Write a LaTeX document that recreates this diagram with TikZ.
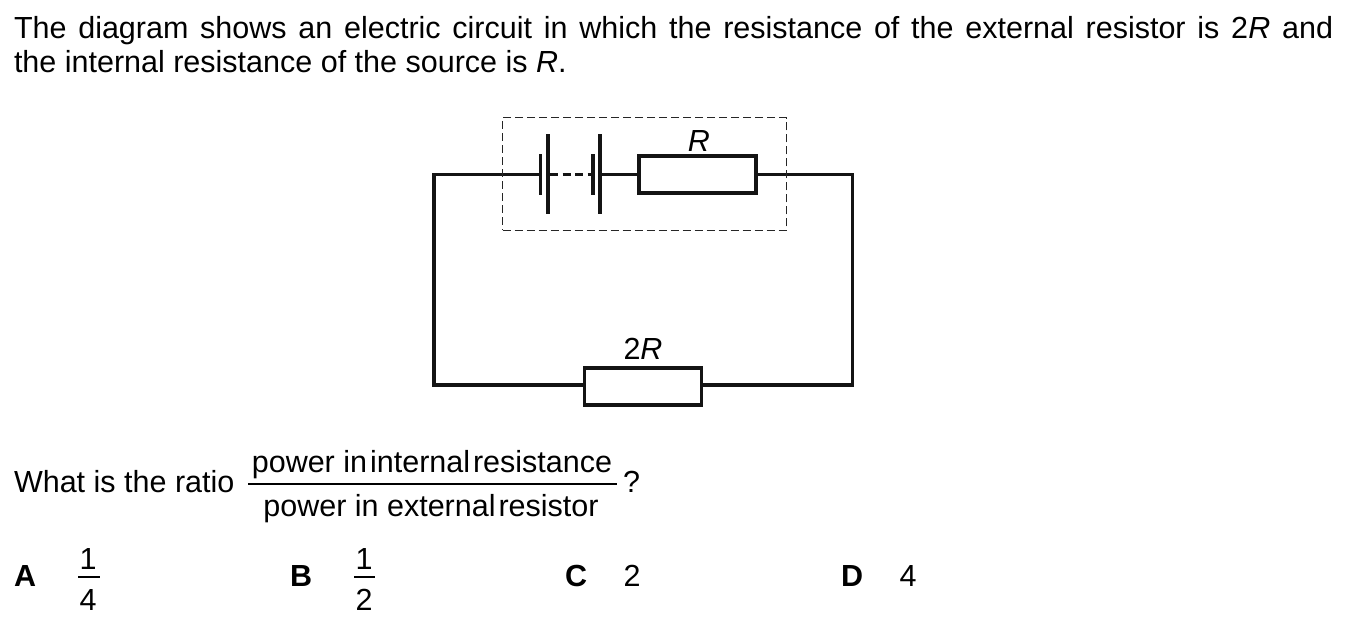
\documentclass[tikz,border=0pt]{standalone}
\usepackage{fontspec}
\setmainfont{Liberation Sans}
\begin{document}
\begin{tikzpicture}[x=1pt,y=-1pt,
  txt/.style={inner sep=0pt,outer sep=0pt,anchor=base west,font=\fontsize{30.5}{34}\selectfont},
  ctr/.style={txt,anchor=base},
  bold/.style={txt,font=\fontsize{30.5}{34}\selectfont\bfseries},
  wire/.style={line width=3.9pt,black!92},
  plate/.style={line width=4.4pt,black!92},
  res/.style={draw=black!92,line width=3.9pt,fill=none,minimum width=117pt,minimum height=37.5pt,inner sep=0pt,outer sep=0pt},
  rule/.style={line width=1.6pt,black}]
\useasboundingbox (0,0) rectangle (1349,626);
\node[txt,anchor=north west,text width=1319pt,align=justify] (intro) at (14,16) {The diagram shows an electric circuit in which the resistance of the external resistor is 2\textit{R} and\linebreak the internal resistance of the source is \textit{R}.};
% circuit
\node[res] (rint) at (697.6,174.5) {};
\node[res] (rext) at (643,386.5) {};
\node[txt,ctr] (rl) at (699,151) {\textit{R}};
\node[txt,ctr] (rel) at (643,359) {2\textit{R}};
\coordinate (p1t) at (548,134); \coordinate (p1b) at (548,214);
\coordinate (s1t) at (540.5,154); \coordinate (s1b) at (540.5,195);
\coordinate (s2t) at (593,154); \coordinate (s2b) at (593,195);
\coordinate (p2t) at (600,134); \coordinate (p2b) at (600,214);
\coordinate (s1m) at (540.5,174.5); \coordinate (p1m) at (548,174.5);
\coordinate (s2m) at (593,174.5); \coordinate (p2m) at (600,174.5);
\coordinate (tl) at (434,174.5); \coordinate (tr) at (852.5,174.5);
\coordinate (bl) at (434,385); \coordinate (br) at (852.5,385);
\draw[plate] (p1t) -- (p1b);
\draw[plate] (p2t) -- (p2b);
\draw[plate,line width=3.6pt] (s1t) -- (s1b);
\draw[plate,line width=3.6pt] (s2t) -- (s2b);
\draw[wire,line join=miter] (s1m) -- (tl) -- (bl) -- (rext.west |- bl);
\draw[wire,line join=miter] (rint.east) -- (tr) -- (br) -- (rext.east |- br);
\draw[wire] (p2m) -- (rint.west);
\draw[wire,dash pattern=on 8pt off 4.5pt] (p1m) ++(2,0) -- (s2m);
\node[draw=black!85,line width=1.1pt,dash pattern=on 8pt off 4pt,minimum width=284pt,minimum height=112.5pt,inner sep=0pt] (box) at (644.5,174) {};
% question
\node[txt] (q) at (14,492) {What is the ratio};
\node[txt,ctr] (num) at (432,472) {power in\hspace{3pt}internal\hspace{3pt}resistance};
\node[txt,ctr] (den) at (431,516) {power in external\hspace{3pt}resistor};
\coordinate (fl) at (248,484); \coordinate (fr) at (617,484);
\draw[rule] (fl) -- (fr);
\node[txt] (qm) at (623,492) {?};
% answers
\node[bold] (a) at (14,586) {A};
\node[bold] (b) at (290,586) {B};
\node[bold] (c) at (565,586) {C};
\node[bold] (d) at (841,586) {D};
\node[txt,ctr] (a1) at (88,569) {1};
\node[txt,ctr] (a4) at (88,610) {4};
\coordinate (afl) at (78,577); \coordinate (afr) at (100,577);
\draw[rule] (afl) -- (afr);
\node[txt,ctr] (b1) at (364,569) {1};
\node[txt,ctr] (b2) at (364,610) {2};
\coordinate (bfl) at (354,577); \coordinate (bfr) at (375,577);
\draw[rule] (bfl) -- (bfr);
\node[txt,ctr] (c2) at (632,586) {2};
\node[txt,ctr] (d4) at (908,586) {4};
\end{tikzpicture}
\end{document}
